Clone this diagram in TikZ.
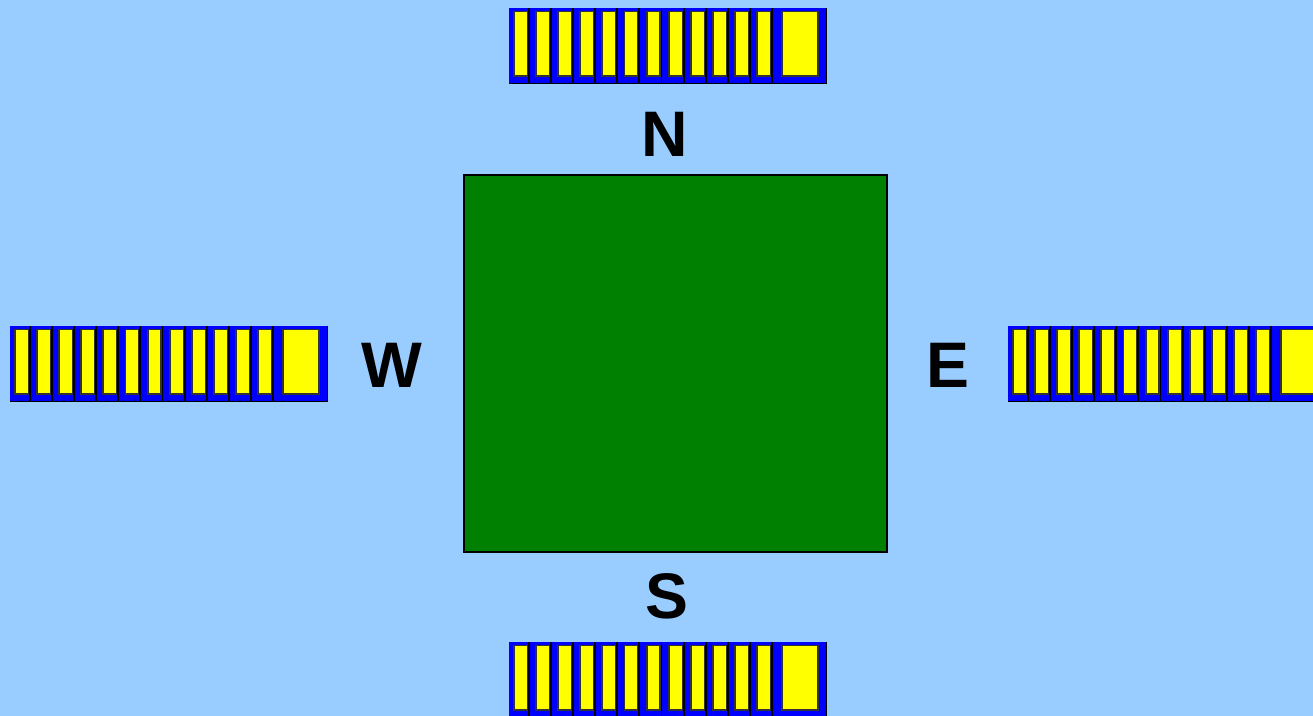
\documentclass[tikz,border=0pt]{standalone}
\usepackage{fontspec}
\setmainfont{Liberation Sans}
\usepackage{xcolor}

\definecolor{sky}{HTML}{99CCFF}
\definecolor{grass}{HTML}{008000}
\definecolor{carblue}{HTML}{0000FF}
\definecolor{caryellow}{HTML}{FFFF00}

\tikzset{
  window/.style={fill=caryellow, draw=black!80, line width=0.55pt},
  joint/.style={draw=black, line width=0.55pt},
  dir/.style={font=\bfseries\fontsize{18.3}{18.3}\selectfont, inner sep=0pt, anchor=base},
}

% one train of 12 narrow cars and one wide car, top left corner at (#1,#2)
\newcommand{\train}[2]{%
  \fill[carblue] (#1,#2) rectangle ++(318,76);
  \foreach \i in {0,...,11} {
    \draw[window] ({#1+\i*22.1+5},{#2+3.5}) rectangle ++(13.8,64.5);
    \draw[joint] ({#1+\i*22.1+19.9},#2) -- ++(0,76);
  }
  \draw[window] ({#1+273},{#2+3.5}) rectangle ++(35.7,64.5);
  \draw[joint] ({#1+317.5},#2) -- ++(0,76);
  \draw[joint] (#1,{#2+75.5}) -- ++(318,0);
}

\begin{document}
\begin{tikzpicture}[x=0.01cm, y=-0.01cm]
  % background
  \fill[sky] (0,0) rectangle (1313,716);
  \useasboundingbox (0,0) rectangle (1313,716);

  % central square
  \draw[fill=grass, draw=black, line width=0.4pt] (464,175) rectangle (887,552);

  % trains
  \train{509}{8}
  \train{10}{326}
  \train{1008}{326}
  \train{509}{642}

  % directions
  \node[dir] (north) at (665,156.5) {N};
  \node[dir] (west) at (392,388) {W};
  \node[dir] (east) at (947.5,387.7) {E};
  \node[dir] (south) at (666.5,618) {S};
\end{tikzpicture}
\end{document}
